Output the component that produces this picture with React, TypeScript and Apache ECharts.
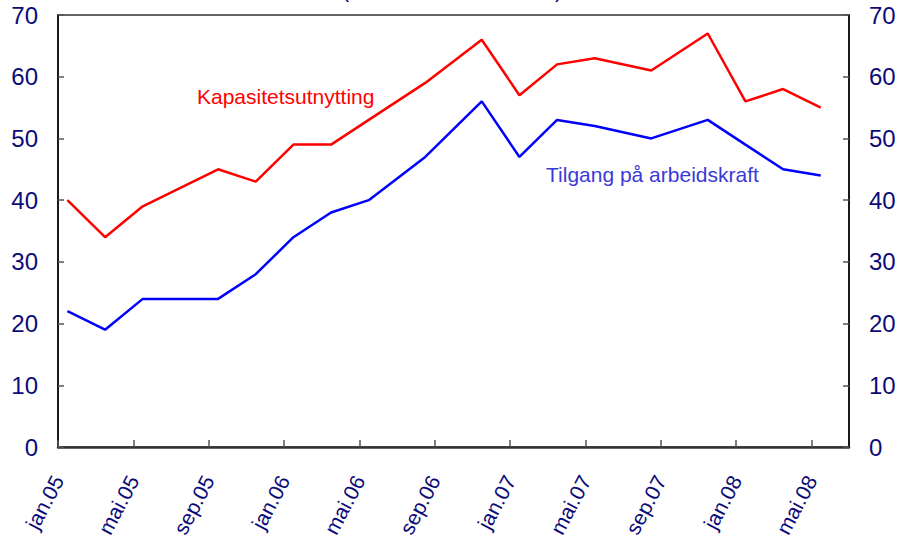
import React, { useEffect, useRef } from "react";
import * as echarts from "echarts";

const monthNames = ["jan", "feb", "mar", "apr", "mai", "jun", "jul", "aug", "sep", "okt", "nov", "des"];
const years = ["05", "06", "07", "08"];
const months: string[] = [];
years.forEach((y) => monthNames.forEach((m) => months.push(m + "." + y)));
const axisMonthCount = 42; // jan.05 .. jun.08

const surveyMonths = [
  "jan.05", "mar.05", "mai.05", "sep.05", "nov.05", "jan.06", "mar.06", "mai.06", "aug.06",
  "nov.06", "jan.07", "mar.07", "mai.07", "aug.07", "nov.07", "jan.08", "mar.08", "mai.08",
];
const kapasitet = [40, 34, 39, 45, 43, 49, 49, 53, 59, 66, 57, 62, 63, 61, 67, 56, 58, 55];
const tilgang = [22, 19, 24, 24, 28, 34, 38, 40, 47, 56, 47, 53, 52, 50, 53, 49, 45, 44];
const yTicks = [0, 10, 20, 30, 40, 50, 60, 70];

const FONT = "'Liberation Sans', Arial, Helvetica, sans-serif";
const NAVY = "#0b0b78";

export default function App() {
  const ref = useRef<HTMLDivElement>(null);
  useEffect(() => {
    if (!ref.current) return;
    const chart = echarts.init(ref.current, null, { renderer: "svg" });
    const toPairs = (vals: number[]) =>
      vals.map((v, i) => [months.indexOf(surveyMonths[i]) + 0.5, v]);
    const yAxisCommon = {
      type: "value" as const,
      min: yTicks[0],
      max: yTicks[yTicks.length - 1],
      interval: 10,
      splitLine: { show: false },
      axisLine: { show: true, lineStyle: { color: "#000", width: 1.5 } },
      axisTick: { show: true, inside: true, length: 6, lineStyle: { color: "#555", width: 1.5 } },
      axisLabel: { color: NAVY, fontSize: 24, fontFamily: FONT, margin: 20 },
    };
    chart.setOption({
      animation: false,
      backgroundColor: "#fff",
      grid: {
        left: 58,
        right: 53,
        top: 15,
        bottom: 92,
        show: true,
        borderColor: "#333",
        borderWidth: 1.5,
        containLabel: false,
        outerBoundsMode: "none",
      },
      xAxis: {
        type: "value",
        min: 0,
        max: axisMonthCount,
        interval: 4,
        splitLine: { show: false },
        axisLine: { show: true, lineStyle: { color: "#333", width: 2.5 } },
        axisTick: { show: true, inside: true, length: 7, lineStyle: { color: "#555", width: 1.5 } },
        axisLabel: {
          color: NAVY,
          fontSize: 21,
          fontFamily: FONT,
          rotate: 62,
          margin: 30,
          showMaxLabel: false,
          formatter: (v: number) => (v < axisMonthCount && v % 4 === 0 ? months[v] : ""),
        },
      },
      yAxis: [
        { ...yAxisCommon, position: "left" },
        { ...yAxisCommon, position: "right" },
      ],
      series: [
        {
          type: "line",
          name: "Kapasitetsutnytting",
          data: toPairs(kapasitet),
          showSymbol: false,
          lineStyle: { color: "#ff0000", width: 2.5 },
          itemStyle: { color: "#ff0000" },
        },
        {
          type: "line",
          name: "Tilgang på arbeidskraft",
          data: toPairs(tilgang),
          showSymbol: false,
          lineStyle: { color: "#0000ff", width: 2.5 },
          itemStyle: { color: "#0000ff" },
        },
      ],
      graphic: [
        {
          type: "text",
          x: 452,
          y: -11,
          style: {
            text: "(andel av kontaktene)",
            fill: NAVY,
            font: `23px ${FONT}`,
            textAlign: "center",
            textVerticalAlign: "middle",
          },
        },
        {
          type: "text",
          x: 197,
          y: 96,
          style: {
            text: "Kapasitetsutnytting",
            fill: "#ff0000",
            font: `21px ${FONT}`,
            textAlign: "left",
            textVerticalAlign: "middle",
          },
        },
        {
          type: "text",
          x: 546,
          y: 174,
          style: {
            text: "Tilgang på arbeidskraft",
            fill: "#3a3ad8",
            font: `21px ${FONT}`,
            textAlign: "left",
            textVerticalAlign: "middle",
          },
        },
      ],
    });
    return () => chart.dispose();
  }, []);
  return (
    <div
      ref={ref}
      style={{ width: 902, height: 539, position: "absolute", left: 0, top: 0 }}
    />
  );
}
